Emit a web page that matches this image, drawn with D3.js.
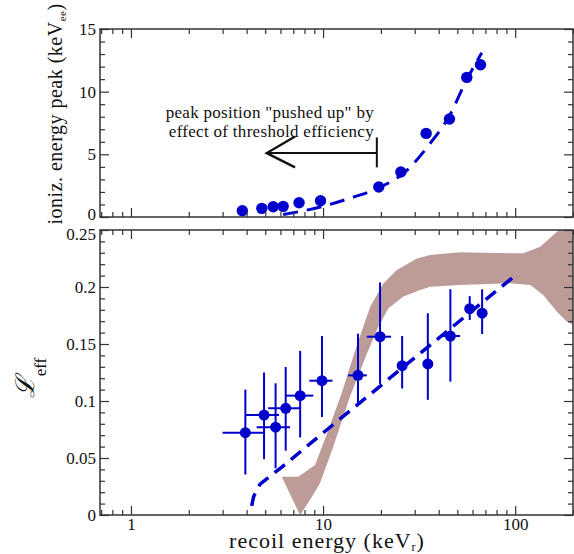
<!DOCTYPE html>
<html>
<head>
<meta charset="utf-8">
<script src="https://cdn.jsdelivr.net/npm/d3@7"></script>
<style>
  body { margin: 0; background: #fff; }
  svg { display: block; }
  text { font-family: "Liberation Serif", "Times New Roman", serif; fill: #111; }
</style>
</head>
<body>
<div id="chart"></div>
<script>
// ionization energy peak vs recoil energy (top panel)
var ionX = [3.8, 4.8, 5.5, 6.2, 7.5, 9.7, 19.5, 25.4, 34.4, 45.5, 56, 66];
var ionY = [0.5, 0.69, 0.82, 0.85, 1.14, 1.3, 2.39, 3.59, 6.67, 7.82, 11.14, 12.15];
var ionFitX = [6.2, 10, 13.8, 19.8, 27.3, 36.2, 45.8, 54.9, 67];
var ionFitY = [0.2, 0.85, 1.5, 2.37, 3.72, 5.9, 8.16, 10.7, 13.1];

// Leff points with error bars (bottom panel)
var leffX = [3.94, 4.93, 5.66, 6.39, 7.6, 9.87, 15.2, 19.8, 25.8, 35.1, 46, 58, 67.3];
var leffY = [0.0722, 0.0877, 0.077, 0.0936, 0.1047, 0.1178, 0.1225, 0.1564, 0.131, 0.1325, 0.157, 0.181, 0.177];
var leffLo = [0.0355, 0.049, 0.041, 0.0564, 0.068, 0.086, 0.0965, 0.115, 0.111, 0.101, 0.117, 0.171, 0.1588];
var leffHi = [0.110, 0.125, 0.1155, 0.1298, 0.144, 0.157, 0.159, 0.204, 0.157, 0.177, 0.198, 0.192, 0.198];
var leffXLo = [3.0, 3.94, 4.51, 5.18, 6.42, 8.48, 13.5, 16.9, 24.3, 33.2, 41.6, 58, 67.3];
var leffXHi = [4.89, 5.9, 6.73, 7.6, 8.9, 11.2, 16.9, 22.6, 27.2, 37, 51.7, 58, 67.3];

// dashed model curve (bottom)
var leffFitX = [4.25, 4.35, 4.5, 4.7, 5.3, 6.1, 10, 30, 100];
var leffFitY = [0.008, 0.016, 0.022, 0.027, 0.034, 0.042, 0.072, 0.138, 0.21];

// shaded band (bottom)
var bandUpX = [6.09, 7.43, 9.08, 10.66, 12.5, 15.0, 17.6, 20.6, 24.2, 30.8, 36.1, 51.7, 94, 110, 135, 165, 201];
var bandUpY = [0.0336, 0.0336, 0.0439, 0.0746, 0.107, 0.1491, 0.1827, 0.203, 0.215, 0.2251, 0.228, 0.2304, 0.2295, 0.2295, 0.2354, 0.2485, 0.262];
var bandLoX = [6.09, 7.59, 8.55, 9.64, 11.3, 13.8, 16.9, 19.4, 21.9, 26.2, 32.0, 36.1, 51.7, 94, 120, 140, 165, 186, 201];
var bandLoY = [0.0336, 0.0, 0.0132, 0.0278, 0.0599, 0.1038, 0.1415, 0.1652, 0.1813, 0.1916, 0.1974, 0.2003, 0.2018, 0.2032, 0.2018, 0.193, 0.1783, 0.1695, 0.1667];

var xMajor = [1, 10, 100];
var xMinor = [0.7, 0.8, 0.9, 2, 3, 4, 5, 6, 7, 8, 9, 20, 30, 40, 50, 60, 70, 80, 90, 200];

var blue = "#0000cc";
var bandColor = "#bd9c98";

var svgWidth = 574;
var svgHeight = 554;

var svg = d3.select("#chart")
  .append("svg")
  .attr("width", svgWidth)
  .attr("height", svgHeight);

var left = 100, right = 573;

var x = d3.scaleLog().domain([0.69, 200]).range([left, right]);

var yTop = d3.scaleLinear().domain([0, 15]).range([217, 29]);
var yBot = d3.scaleLinear().domain([0, 0.25]).range([515, 230]);

// draws the framed box with inward ticks on all four sides
function drawFrame(y, yMajor, yMinor, yFormat, showX) {
  var top = y.range()[1], bottom = y.range()[0];
  var g = svg.append("g").attr("class", "frame");

  function addAxis(axis, transform) {
    var a = g.append("g").attr("transform", transform).call(axis);
    a.select(".domain").remove();
    a.selectAll("line").attr("stroke", "#333").attr("stroke-width", 1.2);
    a.selectAll("text")
      .attr("font-family", null)
      .style("font-family", "'Liberation Serif', 'Times New Roman', serif")
      .style("font-size", "17px")
      .attr("fill", "#111");
    return a;
  }

  addAxis(d3.axisBottom(x).tickValues(xMajor).tickSize(-9).tickPadding(3)
    .tickFormat(showX ? d3.format("d") : ""), `translate(0,${bottom})`);
  addAxis(d3.axisBottom(x).tickValues(xMinor).tickSize(-5).tickFormat(""), `translate(0,${bottom})`);
  addAxis(d3.axisTop(x).tickValues(xMajor).tickSize(-9).tickFormat(""), `translate(0,${top})`);
  addAxis(d3.axisTop(x).tickValues(xMinor).tickSize(-5).tickFormat(""), `translate(0,${top})`);

  var yAx = addAxis(d3.axisLeft(y).tickValues(yMajor).tickSize(-9).tickPadding(4).tickFormat(yFormat), `translate(${left},0)`);
  addAxis(d3.axisLeft(y).tickValues(yMinor).tickSize(-5).tickFormat(""), `translate(${left},0)`);
  addAxis(d3.axisRight(y).tickValues(yMajor).tickSize(-9).tickFormat(""), `translate(${right},0)`);
  addAxis(d3.axisRight(y).tickValues(yMinor).tickSize(-5).tickFormat(""), `translate(${right},0)`);

  g.append("rect")
    .attr("x", left)
    .attr("y", top)
    .attr("width", right - left)
    .attr("height", bottom - top)
    .attr("fill", "none")
    .attr("stroke", "#333")
    .attr("stroke-width", 1.5);

  return yAx;
}

// clip paths
var defs = svg.append("defs");
defs.append("clipPath").attr("id", "clipTop").append("rect")
  .attr("x", left).attr("y", 29).attr("width", right - left).attr("height", 217 - 29);
defs.append("clipPath").attr("id", "clipBot").append("rect")
  .attr("x", left).attr("y", 230).attr("width", right - left).attr("height", 515 - 230);

// ---------- top panel ----------
var topG = svg.append("g").attr("clip-path", "url(#clipTop)");

var ionFit = ionFitX.map((d, i) => [d, ionFitY[i]]);
topG.append("path")
  .datum(ionFit)
  .attr("fill", "none")
  .attr("stroke", blue)
  .attr("stroke-width", 3)
  .attr("stroke-dasharray", "15,9")
  .attr("d", d3.line().x(d => x(d[0])).y(d => yTop(d[1])).curve(d3.curveMonotoneX));

topG.selectAll("circle")
  .data(ionX)
  .enter()
  .append("circle")
  .attr("cx", d => x(d))
  .attr("cy", (d, i) => yTop(ionY[i]))
  .attr("r", 5.7)
  .attr("fill", blue);

var yTopMinor = d3.range(0, 16).filter(d => d % 5 !== 0);
var topYAxis = drawFrame(yTop, [0, 5, 10, 15], yTopMinor, d3.format("d"), false);
// the "0" label sits a little high in the original, clear of "0.25" below
topYAxis.selectAll(".tick").filter(d => d === 0).select("text").attr("y", -3);

// annotation + arrow
var note = svg.append("g").attr("class", "note");
note.append("text")
  .attr("x", 374).attr("y", 118)
  .attr("text-anchor", "end")
  .style("font-size", "17px")
  .style("letter-spacing", "0.3px")
  .text('peak position "pushed up" by');
note.append("text")
  .attr("x", 374).attr("y", 137)
  .attr("text-anchor", "end")
  .style("font-size", "17px")
  .style("letter-spacing", "0.3px")
  .text("effect of threshold efficiency");

note.append("line")
  .attr("x1", x(5.09)).attr("y1", yTop(5.1))
  .attr("x2", x(19.05)).attr("y2", yTop(5.1))
  .attr("stroke", "#111").attr("stroke-width", 2);
note.append("line")
  .attr("x1", x(19.05)).attr("y1", yTop(6.35))
  .attr("x2", x(19.05)).attr("y2", yTop(3.96))
  .attr("stroke", "#111").attr("stroke-width", 2);
note.append("polyline")
  .attr("points", [[x(7.15), yTop(6.43)], [x(5.09), yTop(5.1)], [x(7.15), yTop(3.96)]].map(p => p.join(",")).join(" "))
  .attr("fill", "none")
  .attr("stroke", "#111").attr("stroke-width", 2.4);

// ---------- bottom panel ----------
var botG = svg.append("g").attr("clip-path", "url(#clipBot)");

var bandPts = bandUpX.map((d, i) => [d, bandUpY[i]])
  .concat(bandLoX.map((d, i) => [d, bandLoY[i]]).reverse());
botG.append("path")
  .datum(bandPts)
  .attr("fill", bandColor)
  .attr("stroke", "none")
  .attr("d", d3.line().x(d => x(d[0])).y(d => yBot(d[1])).curve(d3.curveLinearClosed));

var leffFit = leffFitX.map((d, i) => [d, leffFitY[i]]);
botG.append("path")
  .datum(leffFit)
  .attr("fill", "none")
  .attr("stroke", blue)
  .attr("stroke-width", 3.5)
  .attr("stroke-dasharray", "13,8")
  .attr("d", d3.line().x(d => x(d[0])).y(d => yBot(d[1])));

var errG = botG.append("g");
errG.selectAll(".vbar")
  .data(leffX)
  .enter()
  .append("line")
  .attr("class", "vbar")
  .attr("x1", d => x(d)).attr("x2", d => x(d))
  .attr("y1", (d, i) => yBot(leffLo[i]))
  .attr("y2", (d, i) => yBot(leffHi[i]))
  .attr("stroke", blue)
  .attr("stroke-width", 2);
errG.selectAll(".hbar")
  .data(leffX)
  .enter()
  .append("line")
  .attr("class", "hbar")
  .attr("x1", (d, i) => x(leffXLo[i])).attr("x2", (d, i) => x(leffXHi[i]))
  .attr("y1", (d, i) => yBot(leffY[i]))
  .attr("y2", (d, i) => yBot(leffY[i]))
  .attr("stroke", blue)
  .attr("stroke-width", 2);

botG.selectAll("circle")
  .data(leffX)
  .enter()
  .append("circle")
  .attr("cx", d => x(d))
  .attr("cy", (d, i) => yBot(leffY[i]))
  .attr("r", 5.5)
  .attr("fill", blue);

var yBotMinor = d3.range(0, 26).filter(d => d % 5 !== 0).map(d => d / 100);
var botYAxis = drawFrame(yBot, [0, 0.05, 0.1, 0.15, 0.2, 0.25], yBotMinor, d => d === 0 ? "0" : d3.format("")(d), true);
botYAxis.selectAll(".tick").filter(d => d === 0.25).select("text").attr("y", 4);

// ---------- axis titles ----------
var xTitle = svg.append("text")
  .attr("x", 327)
  .attr("y", 548)
  .attr("text-anchor", "middle")
  .style("font-size", "22px")
  .style("letter-spacing", "1px");
xTitle.append("tspan").text("recoil energy (keV");
xTitle.append("tspan").attr("dy", 3).style("font-size", "12px").text("r");
xTitle.append("tspan").attr("dy", -3).text(")");

var yTopTitle = svg.append("text")
  .attr("transform", "translate(62,114) rotate(-90)")
  .attr("text-anchor", "middle")
  .style("font-size", "20px")
  .style("letter-spacing", "0.5px");
yTopTitle.append("tspan").text("ioniz. energy peak (keV");
yTopTitle.append("tspan").attr("dy", 4).style("font-size", "11px").text("ee");
yTopTitle.append("tspan").attr("dy", -4).text(")");

var yBotTitle = svg.append("text")
  .attr("transform", "translate(34,378) rotate(-90)")
  .attr("text-anchor", "middle");
yBotTitle.append("tspan")
  .style("font-family", "'DejaVu Serif', serif")
  .style("font-style", "italic")
  .style("font-size", "26px")
  .text("\u2112");
yBotTitle.append("tspan").attr("dy", 12).style("font-size", "17px").text("eff");
</script>
</body>
</html>
